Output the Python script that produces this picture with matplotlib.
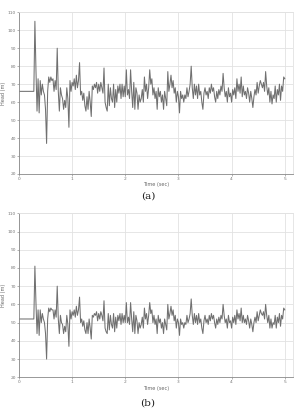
import numpy as np
import matplotlib
matplotlib.use('Agg')
import matplotlib.pyplot as plt

# steady part before the transient
flat_t = [0.0, 0.27]
flat_a = [66, 66]
flat_b = [52, 52]

# samples every 0.02 s from 0.28 s to 5.00 s
t_start = 0.28
t_step = 0.02

head_a = [
    66, 105, 78, 55, 73, 54, 72, 64, 70, 66,
    64, 56, 37, 66, 74, 71, 74, 72, 73, 66,
    72, 67, 90, 66, 55, 68, 64, 62, 56, 61,
    57, 68, 62, 46, 72, 66, 71, 69, 73, 67,
    75, 68, 72, 82, 64, 66, 61, 65, 58, 55,
    63, 56, 66, 60, 52, 69, 67, 70, 68, 71,
    65, 70, 66, 71, 68, 65, 79, 60, 57, 55,
    70, 58, 68, 62, 60, 70, 57, 67, 60, 69,
    65, 70, 62, 70, 63, 69, 63, 78, 64, 67,
    62, 78, 66, 57, 71, 56, 68, 65, 56, 64,
    60, 62, 67, 60, 74, 66, 70, 62, 68, 78,
    70, 73, 64, 68, 62, 66, 56, 68, 63, 66,
    60, 64, 56, 66, 62, 58, 77, 66, 70, 75,
    68, 72, 65, 68, 60, 66, 63, 54, 66, 62,
    64, 60, 64, 62, 68, 63, 66, 70, 80, 68,
    62, 70, 64, 69, 62, 70, 64, 66, 60, 56,
    65, 68, 64, 66, 62, 68, 65, 70, 66, 68,
    63, 60, 66, 62, 67, 64, 69, 66, 76, 68,
    63, 66, 60, 68, 63, 65, 60, 67, 64, 68,
    62, 73, 66, 70, 65, 74, 63, 69, 64, 66,
    62, 68, 65, 60, 66, 62, 57, 63, 67, 64,
    71, 65, 69, 72, 70, 68, 71, 66, 77, 69,
    64, 68, 60, 66, 59, 64, 62, 69, 60, 67,
    64, 70, 61, 69, 66, 74, 73,
]

head_b = [
    52, 81, 61, 44, 57, 43, 57, 50, 55, 52,
    50, 44, 30, 52, 58, 56, 58, 57, 57, 52,
    57, 53, 70, 52, 44, 54, 50, 49, 44, 48,
    45, 54, 49, 37, 57, 52, 56, 54, 57, 53,
    59, 54, 57, 64, 50, 52, 48, 51, 46, 44,
    50, 44, 52, 47, 41, 54, 53, 55, 54, 56,
    51, 55, 52, 56, 54, 51, 62, 47, 45, 44,
    55, 46, 54, 49, 47, 55, 45, 53, 47, 54,
    51, 55, 49, 55, 50, 54, 50, 61, 50, 53,
    49, 61, 52, 45, 56, 44, 54, 51, 44, 50,
    47, 49, 53, 47, 58, 52, 55, 49, 54, 61,
    55, 57, 50, 54, 49, 52, 44, 54, 50, 52,
    47, 50, 44, 52, 49, 46, 60, 52, 55, 59,
    54, 57, 51, 54, 47, 52, 50, 43, 52, 49,
    50, 47, 50, 49, 54, 50, 52, 55, 63, 54,
    49, 55, 50, 54, 49, 55, 50, 52, 47, 44,
    51, 54, 50, 52, 49, 54, 51, 55, 52, 54,
    50, 47, 52, 49, 53, 50, 54, 52, 60, 54,
    50, 52, 47, 54, 50, 51, 47, 53, 50, 54,
    49, 57, 52, 55, 51, 58, 50, 54, 50, 52,
    49, 54, 51, 47, 52, 49, 45, 50, 53, 50,
    56, 51, 54, 57, 55, 54, 56, 52, 60, 54,
    50, 54, 47, 52, 47, 50, 49, 54, 47, 53,
    50, 55, 48, 54, 52, 58, 57,
]

x_ticks = [0, 1, 2, 3, 4, 5]
y_ticks = [20, 30, 40, 50, 60, 70, 80, 90, 100, 110]
panel_labels = ['(a)', '(b)']

t = t_start + t_step * np.arange(len(head_a))

fig = plt.figure(figsize=(2.96, 4.09), dpi=100)
fig.patch.set_facecolor('white')

boxes = [[0.064, 0.5746, 0.925, 0.3953], [0.064, 0.0775, 0.925, 0.401]]
series = [(flat_a, head_a), (flat_b, head_b)]
label_y = [0.521, 0.014]

for box, (flat, vals), lab, ly in zip(boxes, series, panel_labels, label_y):
    ax = fig.add_axes(box)
    ax.plot(list(flat_t) + list(t), list(flat) + list(vals), color='#707070', lw=0.75)
    ax.set_xlim(0, 5.15)
    ax.set_ylim(20, 110)
    ax.set_xticks(x_ticks)
    ax.set_yticks(y_ticks)
    ax.grid(True, color='#e2e2e2', lw=0.6)
    ax.set_axisbelow(True)
    ax.tick_params(labelsize=3.2, colors='#777777', length=1.2, width=0.4, pad=1)
    for s in ['left', 'bottom']:
        ax.spines[s].set_color('#888888')
        ax.spines[s].set_linewidth(0.6)
    for s in ['top', 'right']:
        ax.spines[s].set_color('#e2e2e2')
        ax.spines[s].set_linewidth(0.6)
    ax.set_xlabel('Time (sec)', fontsize=3.6, color='#666666', labelpad=1)
    ax.set_ylabel('Head (m)', fontsize=3.6, color='#666666', labelpad=1)
    fig.text(0.5, ly, lab, ha='center', va='center', fontsize=7.5,
             family='DejaVu Serif', color='#222222')

fig.savefig('out.png', dpi=100)
